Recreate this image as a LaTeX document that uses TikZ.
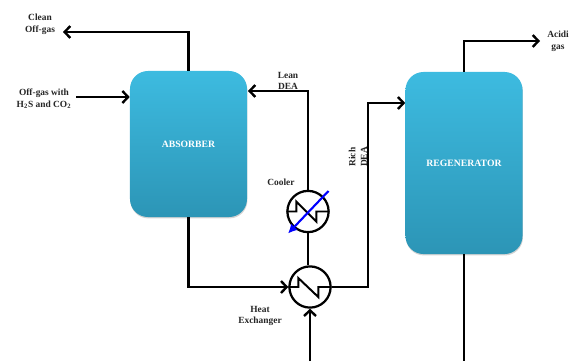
\documentclass[tikz,border=0pt]{standalone}
\usepackage{fontspec}
\setmainfont{Liberation Serif}
\usetikzlibrary{arrows.meta,shadows}
\definecolor{vesseltop}{HTML}{3DBBE0}
\definecolor{vesselbot}{HTML}{2C95B6}
\tikzset{
  vessel/.style={rounded corners=0.45cm,minimum width=2.925cm,top color=vesseltop,bottom color=vesselbot,
    drop shadow={shadow xshift=0.3pt,shadow yshift=-1pt,opacity=0.35},text=white,font=\bfseries\fontsize{6.9}{8}\selectfont},
  exch/.style={circle,draw=black,line width=1.6pt,fill=white,minimum size=1.03cm,inner sep=0pt},
  pipe/.style={line width=1.7pt,black},
  flow/.style={pipe,-{Straight Barb[length=4pt,width=8.5pt,line width=1.7pt]}},
  lbl/.style={align=center,font=\bfseries\fontsize{6.7}{8.4}\selectfont,text=black!85,inner sep=0pt}
}
\begin{document}
\begin{tikzpicture}[x=0.025cm,y=-0.025cm]
  \useasboundingbox (0,0) rectangle (569,361);
  % vessels
  \node[vessel,minimum height=3.65cm] (absorber) at (188.5,144) {ABSORBER};
  \node[vessel,minimum height=4.55cm] (regenerator) at (464,163) {REGENERATOR};
  % exchangers
  \node[exch] (cooler) at (308,211.5) {};
  \node[exch] (exchanger) at (310,287) {};
  \draw[line width=1.4pt] (cooler.west) -- ++(10,0) -- ++(0,-10) -- ++(20,20) -- ++(0,-10) -- (cooler.east);
  \draw[line width=1.4pt] (exchanger.west) -- ++(10,0) -- ++(0,-9) -- ++(20,19) -- ++(0,-10) -- (exchanger.east);
  \coordinate (coolerin) at (328.5,191);
  \coordinate (coolerout) at (288,233.5);
  \draw[-{Latex[length=6.5pt,width=6.5pt]},line width=1.5pt,blue] (coolerin) -- (coolerout);
  % free ends
  \coordinate (cleanout) at (63,32);
  \coordinate (offgasin) at (76,97);
  \coordinate (leanin) at (248,91);
  \coordinate (richin) at (368,103);
  \coordinate (acidout) at (540,41);
  \coordinate (feedin) at (310,361);
  \coordinate (bottomout) at (464,361);
  % lines
  \draw[flow] (absorber.north) |- (cleanout);
  \draw[flow] (offgasin) -- (absorber.west |- offgasin);
  \draw[flow] (cooler.north) |- (leanin);
  \draw[pipe] (cooler.south) -- (cooler.south |- exchanger.north);
  \draw[flow] (absorber.south) |- (exchanger.west);
  \draw[flow] (exchanger.east) -| (richin) -- (regenerator.west |- richin);
  \draw[flow] (feedin) -- (exchanger.south);
  \draw[flow] (regenerator.north) |- (acidout);
  \draw[pipe] (regenerator.south) -- (bottomout);
  % labels
  \node[lbl] (cleanlbl) at (40,24) {Clean\\Off-gas};
  \node[lbl] (offgaslbl) at (44,99) {Off-gas with\\H$_{\mathbf{2}}$S and CO$_{\mathbf{2}}$};
  \node[lbl] (leanlbl) at (288,81) {Lean\\DEA};
  \node[lbl] (coolerlbl) at (281,182) {Cooler};
  \node[lbl] (heatlbl) at (260,316) {Heat\\Exchanger};
  \node[lbl,rotate=90] (richlbl) at (358,157) {Rich\\DEA};
  \node[lbl] (acidlbl) at (558,41) {Acidi\\gas};
\end{tikzpicture}
\end{document}
